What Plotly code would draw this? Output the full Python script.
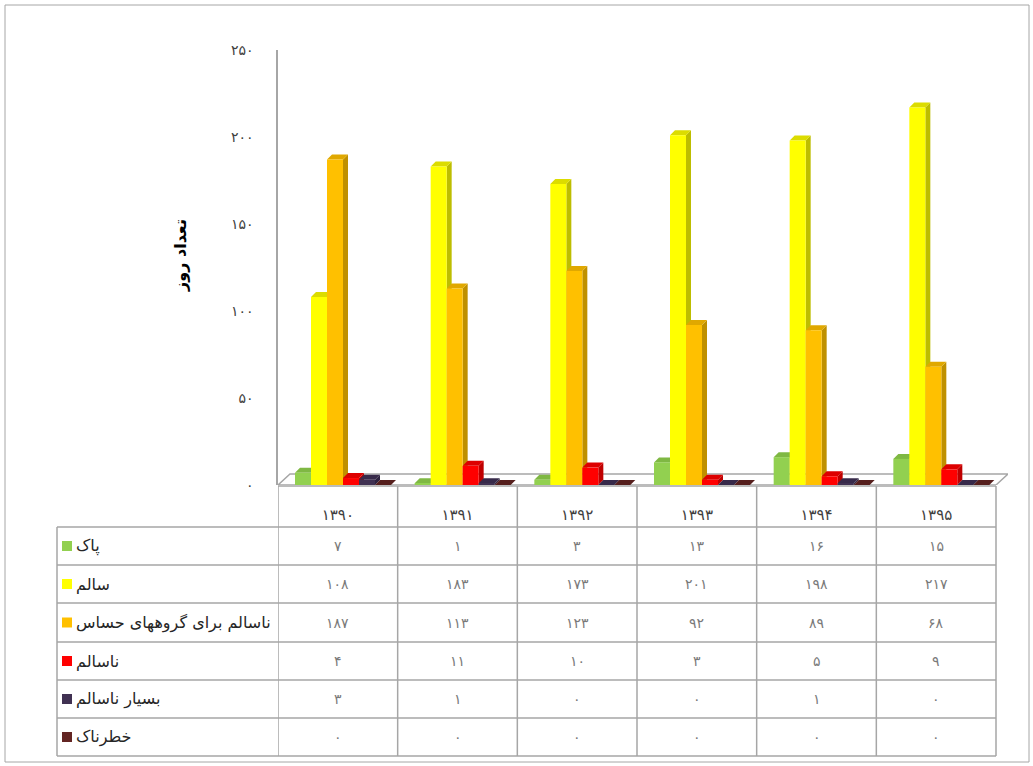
import plotly.graph_objects as go

# ---------------- data ----------------
years = ["۱۳۹۰", "۱۳۹۱", "۱۳۹۲", "۱۳۹۳", "۱۳۹۴", "۱۳۹۵"]
series_names = ["پاک", "سالم", "ناسالم برای گروههای حساس", "ناسالم", "بسیار ناسالم", "خطرناک"]
pak = [7, 1, 3, 13, 16, 15]
salem = [108, 183, 173, 201, 198, 217]
sensitive = [187, 113, 123, 92, 89, 68]
nasalem = [4, 11, 10, 3, 5, 9]
besiar = [3, 1, 0, 0, 1, 0]
khatarnak = [0, 0, 0, 0, 0, 0]
y_ticks = [0, 50, 100, 150, 200, 250]
y_tick_labels = ["۰", "۵۰", "۱۰۰", "۱۵۰", "۲۰۰", "۲۵۰"]
y_title = "تعداد روز"

series_values = [pak, salem, sensitive, nasalem, besiar, khatarnak]

# ---------------- styles ----------------
front = ["#92D050", "#FFFF00", "#FFC000", "#FF0000", "#403152", "#632523"]
side = ["#6E9C3C", "#BDBD00", "#BF9000", "#BF0000", "#2E2340", "#4A1A18"]
top = ["#7FB843", "#DCDC00", "#E0A800", "#DD0000", "#372A4A", "#561F1D"]
FONT = "DejaVu Sans"

W_FIG, H_FIG = 1033, 766
L, R_EDGE = 278, 1008       # plot area left/right pixels
T, B_EDGE = 50, 485         # plot area top/bottom pixels
PXU = 718 / 6.0             # pixels per category unit
XMAX = 5.5 + 12 / PXU
PYU = (B_EDGE - T) / 250.0  # pixels per value unit

def px_x(px):
    return (px - L) / (R_EDGE - L)

def px_y(py):
    return (B_EDGE - py) / (B_EDGE - T)

def fa(n):
    return str(n).translate(str.maketrans("0123456789", "۰۱۲۳۴۵۶۷۸۹"))

bar_w = 16 / PXU
dxs, dys = 5 / PXU, 5 / PYU
dxf, dyf = 12 / PXU, 11 / PYU

fig = go.Figure()
shapes = []
# floor
shapes.append(dict(type="path", xref="x", yref="y", layer="below",
                   path=f"M -0.5,0 L 5.5,0 L {5.5+dxf},{dyf} L {-0.5+dxf},{dyf} Z",
                   fillcolor="white", line=dict(color="#a6a6a6", width=1.5)))

cats = list(range(len(years)))
for s, vals in enumerate(series_values):
    off = (17 + 16 * s) / PXU - 0.5
    for c, v in enumerate(vals):
        xl = c + off
        xr = xl + bar_w
        shapes.append(dict(type="path", xref="x", yref="y", layer="below",
                           path=f"M {xr},0 L {xr+dxs},{dys} L {xr+dxs},{v+dys} L {xr},{v} Z",
                           fillcolor=side[s], line=dict(width=0)))
        shapes.append(dict(type="path", xref="x", yref="y", layer="below",
                           path=f"M {xl},{v} L {xl+dxs},{v+dys} L {xr+dxs},{v+dys} L {xr},{v} Z",
                           fillcolor=top[s], line=dict(width=0)))
    fig.add_trace(go.Bar(x=cats, y=vals, offset=off, width=bar_w,
                         marker=dict(color=front[s], line=dict(width=0)),
                         name=series_names[s], showlegend=False, hoverinfo="skip"))

# ---------------- data table ----------------
grid = dict(color="#a6a6a6", width=1.5)
row_edges = [527, 565, 603, 642, 680, 718, 756]
shapes.append(dict(type="line", xref="x", yref="paper", x0=-0.5, x1=5.5,
                   y0=px_y(486), y1=px_y(486), line=grid))
for py in row_edges:
    shapes.append(dict(type="line", xref="paper", yref="paper", x0=px_x(57), x1=px_x(996),
                       y0=px_y(py), y1=px_y(py), line=grid))
for c in range(len(years) + 1):
    shapes.append(dict(type="line", xref="x", yref="paper", x0=c - 0.5, x1=c - 0.5,
                       y0=px_y(486), y1=px_y(756), line=grid))
shapes.append(dict(type="line", xref="paper", yref="paper", x0=px_x(57), x1=px_x(57),
                   y0=px_y(527), y1=px_y(756), line=grid))

annotations = []
for s, vals in enumerate(series_values):
    yc = (row_edges[s] + row_edges[s + 1]) / 2
    shapes.append(dict(type="rect", xref="paper", yref="paper",
                       x0=px_x(62), x1=px_x(72), y0=px_y(yc - 5), y1=px_y(yc + 5),
                       fillcolor=front[s], line=dict(width=0)))
    annotations.append(dict(xref="paper", yref="paper", x=px_x(74), y=px_y(yc),
                            xanchor="left", yanchor="middle", showarrow=False,
                            text=series_names[s], font=dict(family=FONT, size=16, color="#262626")))
    for c, v in enumerate(vals):
        annotations.append(dict(xref="x", yref="paper", x=c, y=px_y(yc),
                                xanchor="center", yanchor="middle", showarrow=False,
                                text=fa(v), font=dict(family=FONT, size=14, color="#7a7a7a")))

# y-axis title
annotations.append(dict(xref="paper", yref="paper", x=px_x(180), y=px_y(256),
                        xanchor="center", yanchor="middle", showarrow=False, textangle=-90,
                        text=f"<b>{y_title}</b>", font=dict(family=FONT, size=16, color="#000000")))

# outer border
shapes.append(dict(type="rect", xref="paper", yref="paper",
                   x0=px_x(5), x1=px_x(1029), y0=px_y(762), y1=px_y(5),
                   line=dict(color="#a6a6a6", width=1), fillcolor="rgba(0,0,0,0)"))

fig.update_layout(
    width=W_FIG, height=H_FIG,
    margin=dict(l=L, r=W_FIG - R_EDGE, t=T, b=H_FIG - B_EDGE, pad=0),
    paper_bgcolor="white", plot_bgcolor="white",
    barmode="overlay", hovermode=False,
    shapes=shapes, annotations=annotations,
    xaxis=dict(range=[-0.5, XMAX], tickvals=cats, ticktext=years, showgrid=False,
               zeroline=False, showline=False, ticks="", ticklabelstandoff=19,
               tickfont=dict(family=FONT, size=15, color="#404040"), fixedrange=True),
    yaxis=dict(range=[0, 250], tickvals=y_ticks, ticktext=y_tick_labels, showgrid=False,
               zeroline=False, showline=True, linecolor="#a6a6a6", linewidth=1.5, ticks="",
               ticklabelstandoff=20, tickfont=dict(family=FONT, size=14, color="#404040"),
               fixedrange=True),
    font=dict(family=FONT),
)

fig.write_html("out.html", config={"displayModeBar": False},
               post_script="document.body.style.margin='0';document.body.style.padding='0';")
